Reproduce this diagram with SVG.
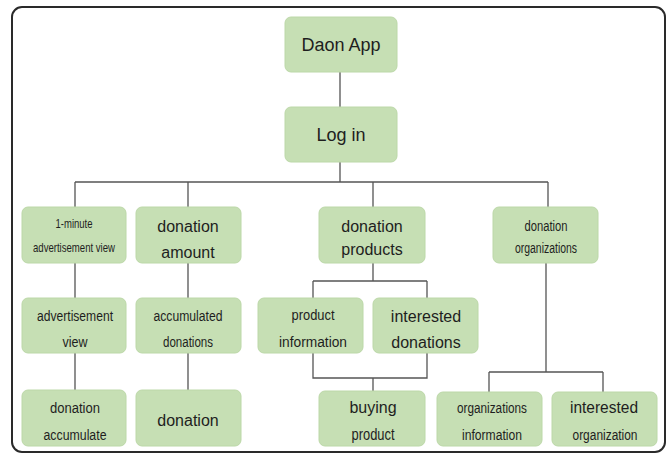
<svg xmlns="http://www.w3.org/2000/svg" width="670" height="455" viewBox="0 0 670 455">
<style>
.box{fill:#c6dfb4;stroke:#bcd8a8;stroke-width:1}
.t{font-family:"Liberation Sans",Arial,sans-serif;font-size:16px;fill:#1e1e1e;text-anchor:middle}
.big{font-size:18px}
.c{font-size:15.5px}
.s{font-size:13px}
.ln{stroke:#555;stroke-width:1.3;fill:none}
</style>
<rect x="12" y="7" width="653" height="445" rx="10" fill="#fff" stroke="#2a2a2a" stroke-width="2"/>
<g id="connectors">
<path class="ln" d="M340 72V107M340 162V182M75 182H548M75 182V207M188 182V207M373 182V207M548 182V207"/>
<path class="ln" d="M75 263V298M75 353V390M188 263V298M188 353V390"/>
<path class="ln" d="M373 263V281M313 281H427M313 281V298M427 281V298M313 353V378H427V353M373 378V391"/>
<path class="ln" d="M546 263V372M489 372H603M489 372V392M603 372V392"/>
</g>
<g id="daon-app"><rect class="box" x="285" y="17" width="112" height="55" rx="6"/><text class="t big" x="341" y="51">Daon App</text></g>
<g id="log-in"><rect class="box" x="285" y="107" width="112" height="55" rx="6"/><text class="t big" x="341" y="141">Log in</text></g>
<g id="one-minute"><rect class="box" x="22" y="207" width="104" height="56" rx="6"/><text class="t s" x="74" y="228" textLength="37" lengthAdjust="spacingAndGlyphs">1-minute</text><text class="t s" x="74" y="252" textLength="82" lengthAdjust="spacingAndGlyphs">advertisement view</text></g>
<g id="donation-amount"><rect class="box" x="136" y="207" width="105" height="56" rx="6"/><text class="t" x="188" y="232">donation</text><text class="t" x="188" y="258">amount</text></g>
<g id="donation-products"><rect class="box" x="319" y="207" width="106" height="56" rx="6"/><text class="t" x="372" y="232">donation</text><text class="t" x="372" y="255">products</text></g>
<g id="donation-organizations"><rect class="box" x="493" y="207" width="105" height="56" rx="6"/><text class="t c" x="546" y="231" textLength="43" lengthAdjust="spacingAndGlyphs">donation</text><text class="t c" x="546" y="253" textLength="62" lengthAdjust="spacingAndGlyphs">organizations</text></g>
<g id="advertisement-view"><rect class="box" x="22" y="298" width="104" height="55" rx="6"/><text class="t c" x="75" y="321" textLength="76" lengthAdjust="spacingAndGlyphs">advertisement</text><text class="t c" x="75" y="347" textLength="25" lengthAdjust="spacingAndGlyphs">view</text></g>
<g id="accumulated-donations"><rect class="box" x="136" y="298" width="105" height="55" rx="6"/><text class="t c" x="188" y="321" textLength="69" lengthAdjust="spacingAndGlyphs">accumulated</text><text class="t c" x="188" y="347" textLength="50" lengthAdjust="spacingAndGlyphs">donations</text></g>
<g id="product-information"><rect class="box" x="258" y="298" width="105" height="55" rx="6"/><text class="t c" x="313" y="320" textLength="43" lengthAdjust="spacingAndGlyphs">product</text><text class="t c" x="313" y="347" textLength="68" lengthAdjust="spacingAndGlyphs">information</text></g>
<g id="interested-donations"><rect class="box" x="373" y="298" width="105" height="55" rx="6"/><text class="t" x="426" y="322">interested</text><text class="t" x="426" y="348">donations</text></g>
<g id="donation-accumulate"><rect class="box" x="22" y="390" width="104" height="56" rx="6"/><text class="t c" x="75" y="413" textLength="50" lengthAdjust="spacingAndGlyphs">donation</text><text class="t c" x="75" y="440" textLength="63" lengthAdjust="spacingAndGlyphs">accumulate</text></g>
<g id="donation"><rect class="box" x="136" y="390" width="105" height="56" rx="6"/><text class="t" x="188" y="426">donation</text></g>
<g id="buying-product"><rect class="box" x="319" y="391" width="106" height="55" rx="6"/><text class="t" x="373" y="413">buying</text><text class="t" x="373" y="440" textLength="43" lengthAdjust="spacingAndGlyphs">product</text></g>
<g id="organizations-information"><rect class="box" x="437" y="392" width="105" height="54" rx="6"/><text class="t c" x="492" y="413" textLength="70" lengthAdjust="spacingAndGlyphs">organizations</text><text class="t c" x="492" y="440" textLength="60" lengthAdjust="spacingAndGlyphs">information</text></g>
<g id="interested-organization"><rect class="box" x="552" y="392" width="105" height="54" rx="6"/><text class="t" x="604" y="413" textLength="68" lengthAdjust="spacingAndGlyphs">interested</text><text class="t c" x="605" y="440" textLength="65" lengthAdjust="spacingAndGlyphs">organization</text></g>
</svg>
